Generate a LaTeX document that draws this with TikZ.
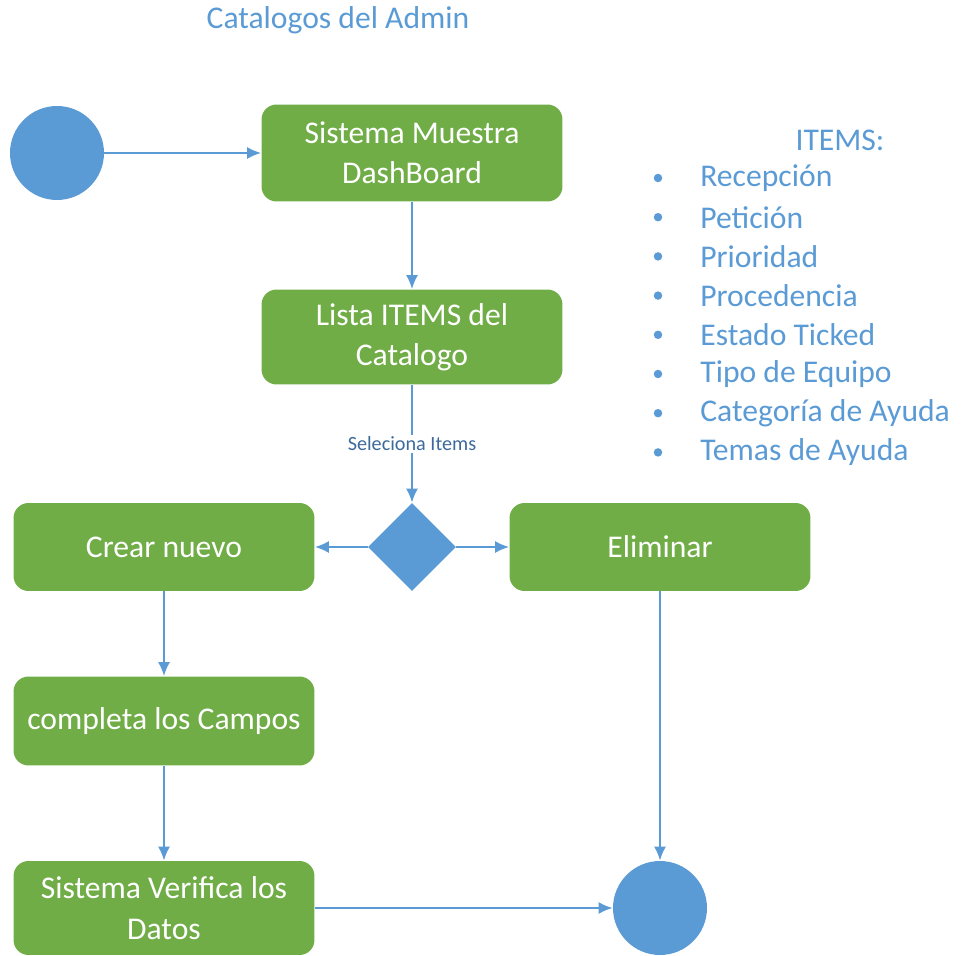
\documentclass[tikz,border=0pt]{standalone}
\usepackage{fontspec}
\setmainfont{Carlito}
\usetikzlibrary{shapes.geometric,arrows.meta}
\definecolor{verde}{HTML}{70AD47}
\definecolor{azul}{HTML}{5B9BD5}
\definecolor{azulosc}{HTML}{3D6A9C}
\tikzset{
  caja/.style={fill=verde,rounded corners=0.3cm,minimum width=6.02cm,text=white,align=center,
    font=\fontsize{18}{23}\selectfont,inner sep=2pt},
  punto/.style={circle,fill=azul,minimum size=1.88cm,inner sep=0pt},
  flecha/.style={azul,line width=1.1pt,-{Latex[length=0.28cm,width=0.24cm]}},
  texto/.style={text=azul,font=\fontsize{18}{23}\selectfont,inner sep=0pt}
}
\begin{document}
\begin{tikzpicture}[x=0.02cm,y=-0.02cm]
\useasboundingbox (0,0) rectangle (961,956);
%titulo
\node[texto] (titulo) at (338,20) {Catalogos del Admin};
%nodos
\node[punto] (inicio) at (57,153) {};
\node[caja,minimum height=1.94cm] (muestra) at (412,153) {Sistema Muestra\\DashBoard};
\node[caja,minimum height=1.9cm] (lista) at (412,337) {Lista ITEMS del\\Catalogo};
\node[diamond,fill=azul,minimum width=1.76cm,minimum height=1.76cm,inner sep=0pt] (decision) at (412,547) {};
\node[caja,minimum height=1.76cm] (crear) at (164,547) {Crear nuevo};
\node[caja,minimum height=1.76cm] (eliminar) at (660,547) {Eliminar};
\node[caja,minimum height=1.78cm] (completa) at (164,721) {completa los Campos};
\node[caja,minimum height=1.88cm] (verifica) at (164,908) {Sistema Verifica los\\Datos};
\node[punto] (fin) at (660,908) {};
%flechas
\draw[flecha] (inicio) -- (muestra);
\draw[flecha] (muestra) -- (lista);
\draw[flecha] (lista) -- node[fill=white,text=azulosc,font=\fontsize{11.5}{13}\selectfont,inner sep=1pt]{Seleciona Items} (decision);
\draw[flecha] (decision) -- (crear);
\draw[flecha] (decision) -- (eliminar);
\draw[flecha] (crear) -- (completa);
\draw[flecha] (completa) -- (verifica);
\draw[flecha] (verifica) -- (fin);
\draw[flecha] (eliminar) -- (fin);
%lista de items
\node[texto] (items) at (840,140) {ITEMS:};
\foreach \nombre [count=\i] in {Recepción,Petición,Prioridad,Procedencia,Estado Ticked,Tipo de Equipo,Categoría de Ayuda,Temas de Ayuda}{
  \node[circle,fill=azul,inner sep=0pt,minimum size=0.17cm] (bala\i) at (658,{178+39.2*(\i-1)}) {};
  \node[texto,anchor=west] (item\i) at (700,{178+39.2*(\i-1)}) {\nombre};
}
\end{tikzpicture}
\end{document}
